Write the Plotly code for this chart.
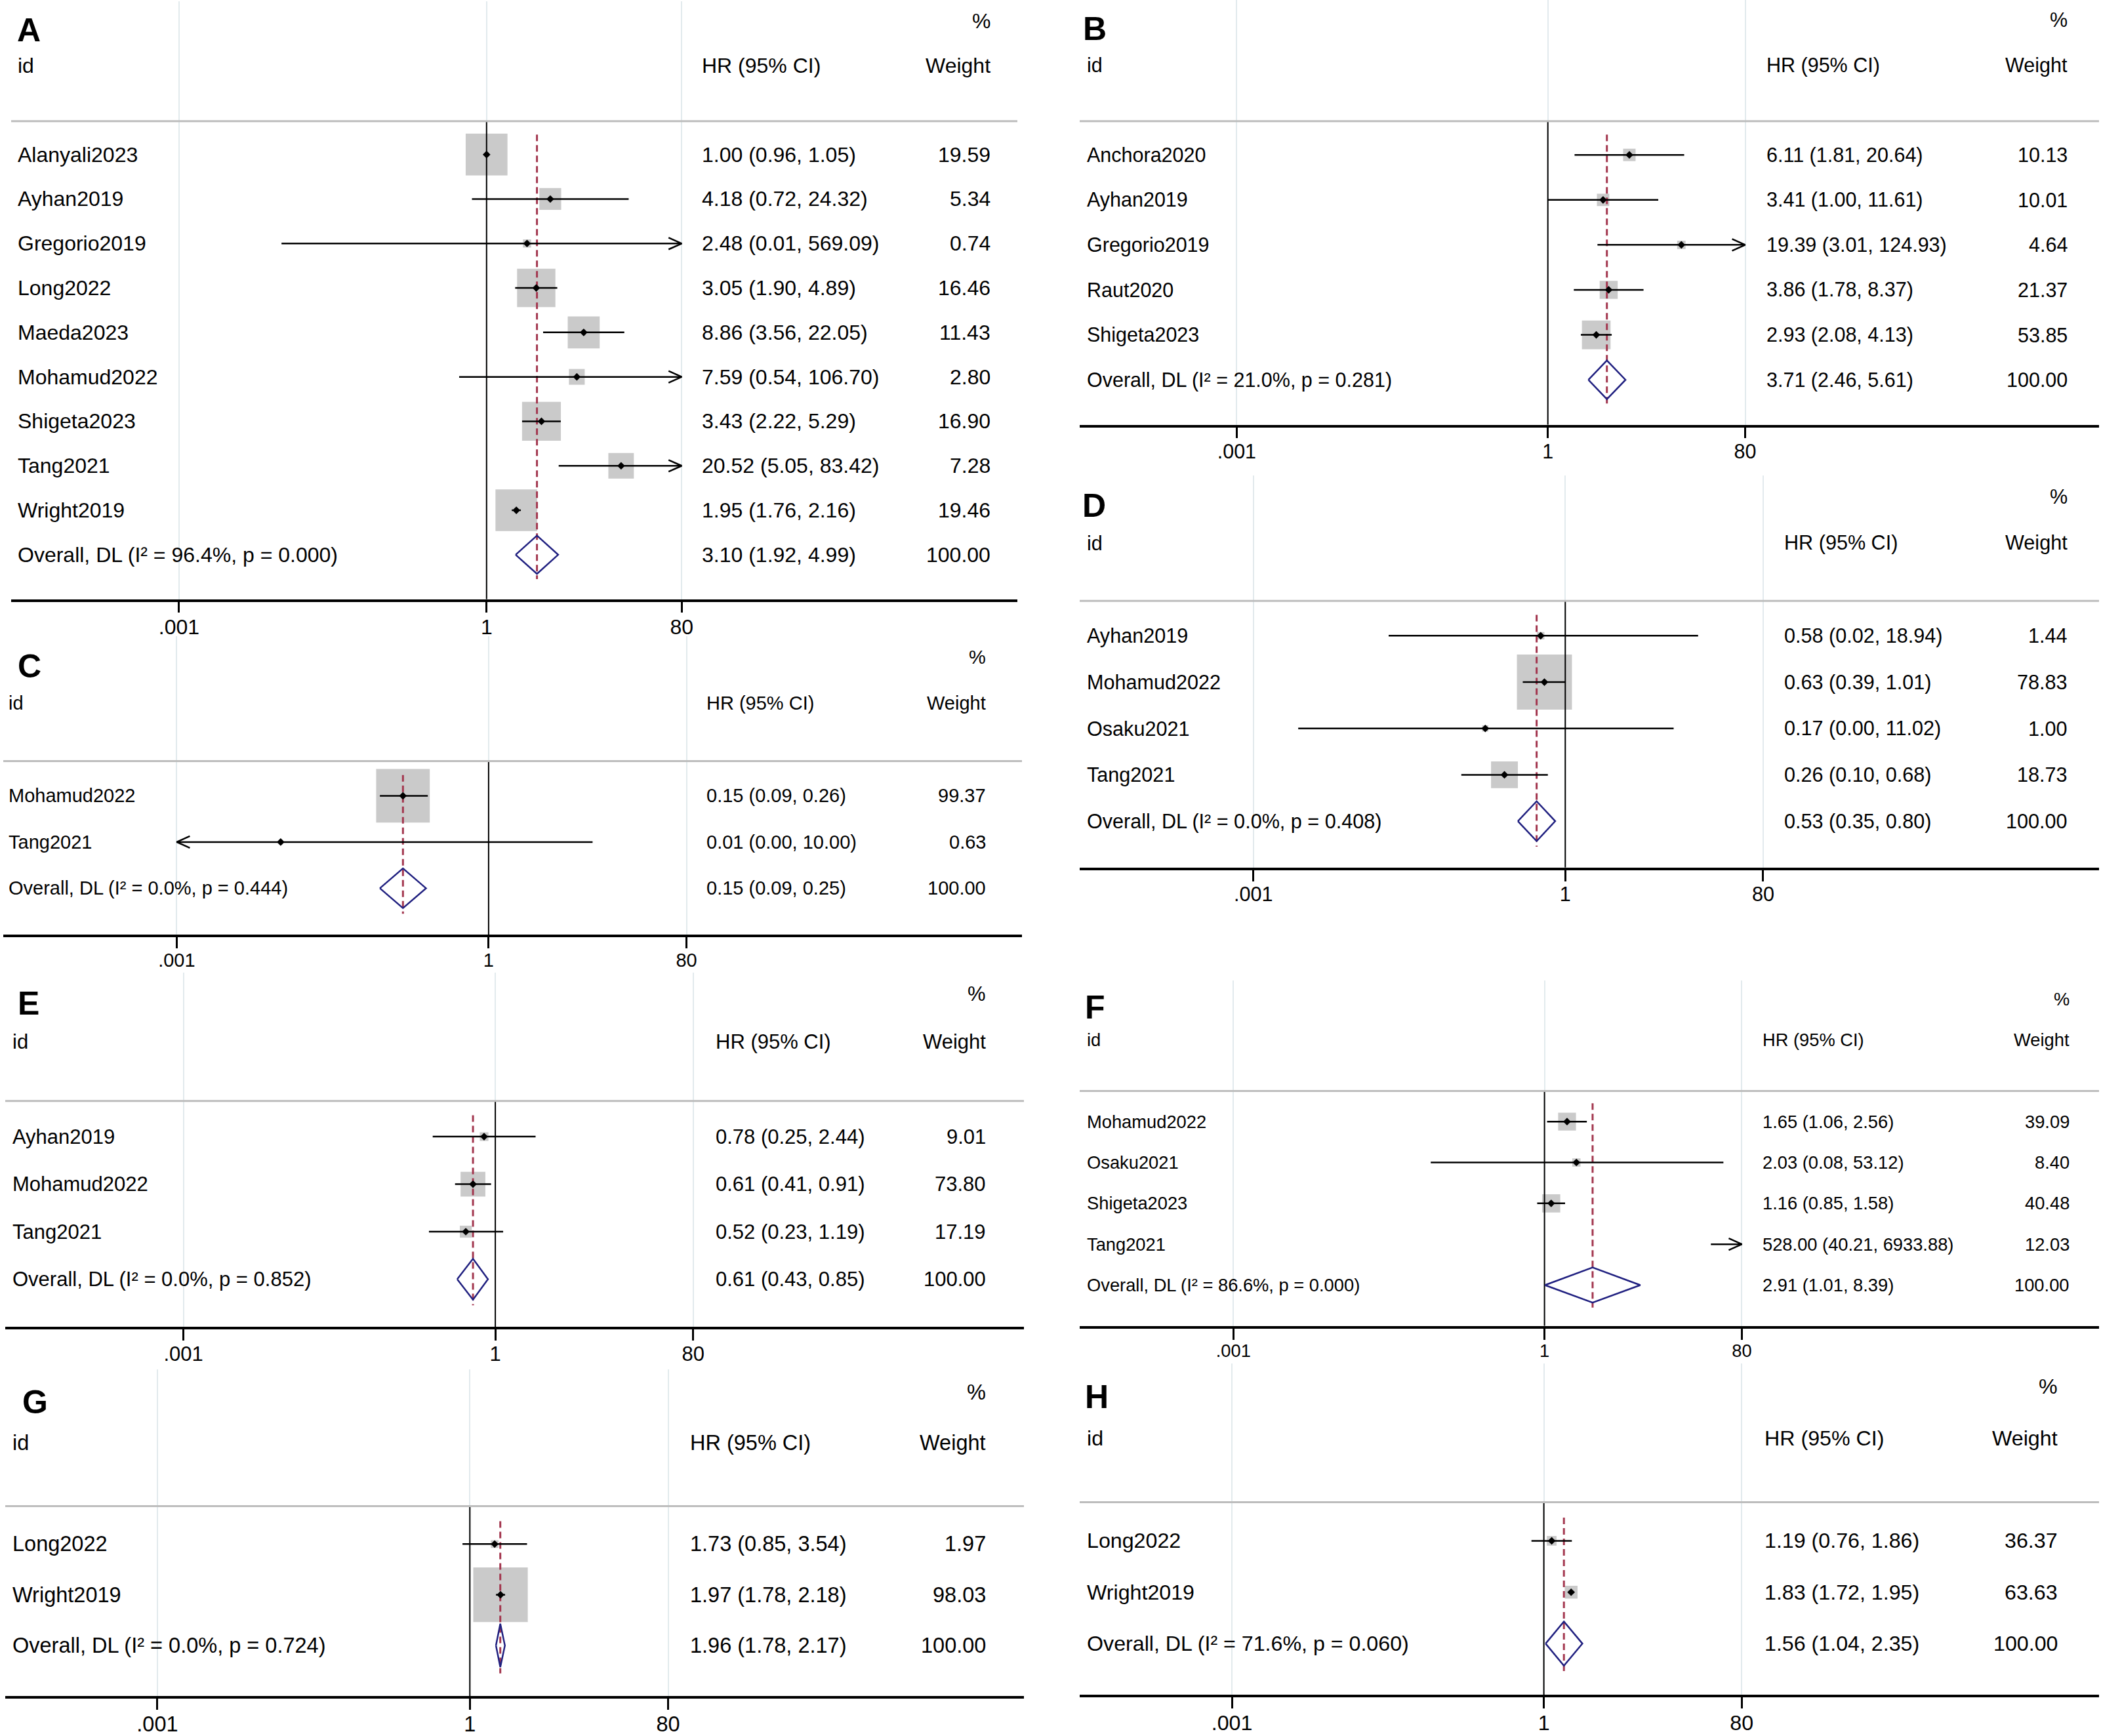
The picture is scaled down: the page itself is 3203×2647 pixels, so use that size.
import math
import plotly.graph_objects as go

# ------------------------------------------------------------------
# values
# ------------------------------------------------------------------
tick_vals = [0.001, 1, 80]
tick_text = [".001", "1", "80"]

panel_ids = ["A", "B", "C", "D", "E", "F", "G", "H"]

names_A = ["Alanyali2023", "Ayhan2019", "Gregorio2019", "Long2022", "Maeda2023",
           "Mohamud2022", "Shigeta2023", "Tang2021", "Wright2019"]
hr_A = [1.00, 4.18, 2.48, 3.05, 8.86, 7.59, 3.43, 20.52, 1.95]
lo_A = [0.96, 0.72, 0.01, 1.90, 3.56, 0.54, 2.22, 5.05, 1.76]
hi_A = [1.05, 24.32, 569.09, 4.89, 22.05, 106.70, 5.29, 83.42, 2.16]
wt_A = [19.59, 5.34, 0.74, 16.46, 11.43, 2.80, 16.90, 7.28, 19.46]

names_B = ["Anchora2020", "Ayhan2019", "Gregorio2019", "Raut2020", "Shigeta2023"]
hr_B = [6.11, 3.41, 19.39, 3.86, 2.93]
lo_B = [1.81, 1.00, 3.01, 1.78, 2.08]
hi_B = [20.64, 11.61, 124.93, 8.37, 4.13]
wt_B = [10.13, 10.01, 4.64, 21.37, 53.85]

names_C = ["Mohamud2022", "Tang2021"]
hr_C = [0.15, 0.01]
lo_C = [0.09, 0.0005]
hi_C = [0.26, 10.00]
wt_C = [99.37, 0.63]

names_D = ["Ayhan2019", "Mohamud2022", "Osaku2021", "Tang2021"]
hr_D = [0.58, 0.63, 0.17, 0.26]
lo_D = [0.02, 0.39, 0.0027, 0.10]
hi_D = [18.94, 1.01, 11.02, 0.68]
wt_D = [1.44, 78.83, 1.00, 18.73]

names_E = ["Ayhan2019", "Mohamud2022", "Tang2021"]
hr_E = [0.78, 0.61, 0.52]
lo_E = [0.25, 0.41, 0.23]
hi_E = [2.44, 0.91, 1.19]
wt_E = [9.01, 73.80, 17.19]

names_F = ["Mohamud2022", "Osaku2021", "Shigeta2023", "Tang2021"]
hr_F = [1.65, 2.03, 1.16, 528.00]
lo_F = [1.06, 0.08, 0.85, 40.21]
hi_F = [2.56, 53.12, 1.58, 6933.88]
wt_F = [39.09, 8.40, 40.48, 12.03]

names_G = ["Long2022", "Wright2019"]
hr_G = [1.73, 1.97]
lo_G = [0.85, 1.78]
hi_G = [3.54, 2.18]
wt_G = [1.97, 98.03]

names_H = ["Long2022", "Wright2019"]
hr_H = [1.19, 1.83]
lo_H = [0.76, 1.72]
hi_H = [1.86, 1.95]
wt_H = [36.37, 63.63]

pooled_hr = [3.10, 3.71, 0.15, 0.53, 0.61, 2.91, 1.96, 1.56]
pooled_lo = [1.92, 2.46, 0.09, 0.35, 0.43, 1.01, 1.78, 1.04]
pooled_hi = [4.99, 5.61, 0.25, 0.80, 0.85, 8.39, 2.17, 2.35]
pooled_wt = [100.0] * 8
i2 = [96.4, 21.0, 0.0, 0.0, 0.0, 86.6, 0.0, 71.6]
pval = [0.000, 0.281, 0.444, 0.408, 0.852, 0.000, 0.724, 0.060]

studies = {
    "A": (names_A, hr_A, lo_A, hi_A, wt_A),
    "B": (names_B, hr_B, lo_B, hi_B, wt_B),
    "C": (names_C, hr_C, lo_C, hi_C, wt_C),
    "D": (names_D, hr_D, lo_D, hi_D, wt_D),
    "E": (names_E, hr_E, lo_E, hi_E, wt_E),
    "F": (names_F, hr_F, lo_F, hi_F, wt_F),
    "G": (names_G, hr_G, lo_G, hi_G, wt_G),
    "H": (names_H, hr_H, lo_H, hi_H, wt_H),
}

# ------------------------------------------------------------------
# page geometry (pixels) and styling
# ------------------------------------------------------------------
W, H = 3203, 2647
FONT = "Liberation Sans, Arial, sans-serif"
BOX_GRAY = "#b4b4b4"
DASH_RED = "#a3374f"
NAVY = "#202080"
GRID = "#e2eaed"
RULE = "#bdbdbd"

# x0/x1: panel extent, c1: pixel of "1", dec: px per decade,
# row1/step: first row centre and row spacing, lab/est/wgt: text columns
geom = {
    "A": dict(x0=17, x1=1551, c1=741.8, dec=156.3, row1=236.4, step=68.0,
              lab=25, est=1068, wgt=1512, fs=32, box=14.4, let=24),
    "B": dict(x0=1646, x1=3200, c1=2359.7, dec=158.1, row1=236.9, step=68.8,
              lab=1655, est=2691, wgt=3154, fs=30.5, box=5.95, let=1649),
    "C": dict(x0=5, x1=1558, c1=744.9, dec=158.5, row1=1217.1, step=70.7,
              lab=11, est=1075, wgt=1505, fs=29, box=8.2, let=25),
    "D": dict(x0=1646, x1=3200, c1=2386.3, dec=158.5, row1=972.3, step=70.9,
              lab=1655, est=2718, wgt=3154, fs=30.6, box=9.45, let=1648),
    "E": dict(x0=8, x1=1561, c1=755.1, dec=158.5, row1=1738.3, step=72.7,
              lab=17, est=1089, wgt=1505, fs=31, box=4.4, let=25),
    "F": dict(x0=1646, x1=3200, c1=2354.6, dec=158.1, row1=1715.4, step=62.5,
              lab=1655, est=2685, wgt=3157, fs=27.3, box=4.35, let=1652),
    "G": dict(x0=8, x1=1561, c1=716.3, dec=158.8, row1=2361.5, step=77.5,
              lab=17, est=1050, wgt=1505, fs=32.5, box=8.4, let=32),
    "H": dict(x0=1646, x1=3200, c1=2353.6, dec=158.5, row1=2356.5, step=78.6,
              lab=1655, est=2688, wgt=3139, fs=32.2, box=2.45, let=1652),
}

XMIN, XMAX = tick_vals[0], tick_vals[-1]
ARROW_LEN, ARROW_HALF = 20, 9

fig = go.Figure()
annotations = []
shapes = []


def fmt_ci(h, l, u):
    return "%.2f (%.2f, %.2f)" % (h, l, u)


for k, pid in enumerate(panel_ids):
    g = geom[pid]
    names, hr, lo, hi, wt = studies[pid]
    n = len(names) + 1  # studies + pooled row
    s = "" if k == 0 else str(k + 1)
    xa, ya = "x" + s, "y" + s

    top = max(0.0, g["row1"] - 3.45 * g["step"])
    bot = g["row1"] + n * g["step"]
    fig.layout["xaxis" + s] = dict(
        type="log", domain=[g["x0"] / W, g["x1"] / W],
        range=[(g["x0"] - g["c1"]) / g["dec"], (g["x1"] - g["c1"]) / g["dec"]],
        anchor=ya, tickvals=tick_vals, ticktext=tick_text,
        ticks="outside", ticklen=17, tickwidth=2.5, tickcolor="black",
        ticklabelstandoff=-6,
        showline=True, linewidth=3.5, linecolor="black",
        showgrid=True, gridcolor=GRID, gridwidth=2, zeroline=False,
        tickfont=dict(family=FONT, size=g["fs"], color="black"),
    )
    fig.layout["yaxis" + s] = dict(
        domain=[1 - bot / H, 1 - top / H],
        range=[n, (top - g["row1"]) / g["step"]],
        anchor=xa, showgrid=False, zeroline=False, showline=False,
        showticklabels=False, ticks="",
    )

    rows = list(range(len(names)))
    last = n - 1
    dx = ARROW_LEN / g["dec"]
    dy = ARROW_HALF / g["step"]

    # header rule
    shapes.append(dict(type="line", xref=xa + " domain", yref=ya, x0=0, x1=1,
                       y0=-0.75, y1=-0.75, line=dict(color=RULE, width=3)))

    # weight boxes (only for estimates inside the plotted range)
    bx = [h for h in hr if XMIN <= h <= XMAX]
    by = [r for r, h in zip(rows, hr) if XMIN <= h <= XMAX]
    bs = [g["box"] * math.sqrt(w) for h, w in zip(hr, wt) if XMIN <= h <= XMAX]
    fig.add_trace(go.Scatter(x=bx, y=by, xaxis=xa, yaxis=ya, mode="markers",
                             marker=dict(symbol="square", size=bs, color=BOX_GRAY,
                                         line=dict(width=0)),
                             hoverinfo="skip"))

    # pooled estimate, dashed
    fig.add_trace(go.Scatter(x=[pooled_hr[k], pooled_hr[k]], y=[-0.45, last + 0.55],
                             xaxis=xa, yaxis=ya, mode="lines",
                             line=dict(color=DASH_RED, width=3, dash="10px,6px"),
                             hoverinfo="skip"))

    # line of no effect
    fig.add_trace(go.Scatter(x=[1, 1], y=[-0.75, n], xaxis=xa, yaxis=ya, mode="lines",
                             line=dict(color="black", width=2), hoverinfo="skip"))

    # confidence intervals, clipped, with arrows where they run off
    cx, cy = [], []
    for r, l, u in zip(rows, lo, hi):
        lc, uc = max(l, XMIN), min(u, XMAX)
        cx += [lc, uc, None]
        cy += [r, r, None]
        if u > XMAX:
            tip = math.log10(XMAX)
            cx += [10 ** (tip - dx), XMAX, 10 ** (tip - dx), None]
            cy += [r - dy, r, r + dy, None]
        if l < XMIN:
            tip = math.log10(XMIN)
            cx += [10 ** (tip + dx), XMIN, 10 ** (tip + dx), None]
            cy += [r - dy, r, r + dy, None]
    fig.add_trace(go.Scatter(x=cx, y=cy, xaxis=xa, yaxis=ya, mode="lines",
                             line=dict(color="black", width=2.5), hoverinfo="skip"))

    # point estimates
    fig.add_trace(go.Scatter(x=bx, y=by, xaxis=xa, yaxis=ya, mode="markers",
                             marker=dict(symbol="diamond", size=9, color="black"),
                             hoverinfo="skip"))

    # pooled diamond
    hgt = 0.43
    fig.add_trace(go.Scatter(
        x=[pooled_lo[k], pooled_hr[k], pooled_hi[k], pooled_hr[k], pooled_lo[k]],
        y=[last, last - hgt, last, last + hgt, last],
        xaxis=xa, yaxis=ya, mode="lines", line=dict(color=NAVY, width=2.5),
        hoverinfo="skip"))

    # text columns
    def txt(text, px, row, anchor="left", size=None, weight="normal"):
        annotations.append(dict(
            text=text, xref="paper", x=px / W, yref=ya, y=row,
            xanchor=anchor, yanchor="middle", showarrow=False,
            font=dict(family=FONT, size=size or g["fs"], color="black",
                      weight=weight)))

    txt(pid, g["let"], -2.8, size=50, weight="bold")
    txt("%", g["wgt"], -3, anchor="right")
    txt("id", g["lab"], -2)
    txt("HR (95% CI)", g["est"], -2)
    txt("Weight", g["wgt"], -2, anchor="right")
    for r, nm, h, l, u, w in zip(rows, names, hr, lo, hi, wt):
        txt(nm, g["lab"], r)
        txt(fmt_ci(h, l, u), g["est"], r)
        txt("%.2f" % w, g["wgt"], r, anchor="right")
    txt("Overall, DL (I\u00b2 = %.1f%%, p = %.3f)" % (i2[k], pval[k]), g["lab"], last)
    txt(fmt_ci(pooled_hr[k], pooled_lo[k], pooled_hi[k]), g["est"], last)
    txt("%.2f" % pooled_wt[k], g["wgt"], last, anchor="right")

fig.update_layout(
    width=W, height=H, margin=dict(l=0, r=0, t=0, b=0),
    paper_bgcolor="white", plot_bgcolor="white",
    showlegend=False, annotations=annotations, shapes=shapes,
    font=dict(family=FONT, color="black"),
)

fig.write_html("out.html", config={"displayModeBar": False},
               post_script="document.body.style.margin='0';")
